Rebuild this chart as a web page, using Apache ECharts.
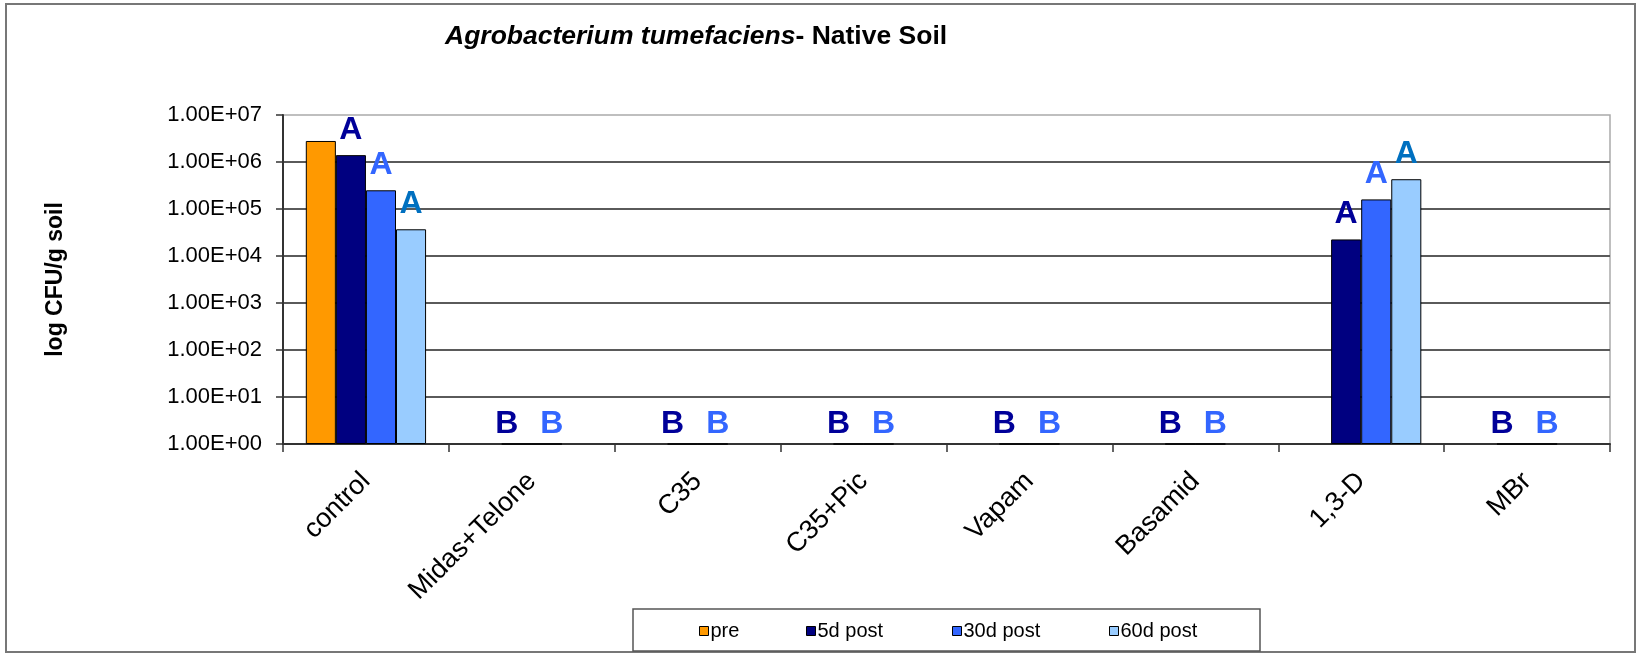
<!DOCTYPE html>
<html>
<head>
<meta charset="utf-8">
<title>Agrobacterium tumefaciens - Native Soil</title>
<script src="https://cdn.jsdelivr.net/npm/echarts@6/dist/echarts.min.js"></script>
<style>
  html, body { margin: 0; padding: 0; background: #fff; }
  #chart { width: 1643px; height: 655px; }
</style>
</head>
<body>
<div id="chart"></div>
<script>
// treatments on the x axis
var categories = ['control', 'Midas+Telone', 'C35', 'C35+Pic', 'Vapam', 'Basamid', '1,3-D', 'MBr'];

// CFU/g soil read off the log scale; 1 = nothing detected (axis floor), null = no bar
var pre    = [2.8e6, null, null, null, null, null, null, null];
var post5  = [1.4e6, 1, 1, 1, 1, 1, 2.25e4, 1];
var post30 = [2.5e5, 1, 1, 1, 1, 1, 1.6e5, 1];
var post60 = [3.7e4, null, null, null, null, null, 4.3e5, null];

// significance letters above the bars
var letters5  = ['A', 'B', 'B', 'B', 'B', 'B', 'A', 'B'];
var letters30 = ['A', 'B', 'B', 'B', 'B', 'B', 'A', 'B'];
var letters60 = ['A', '', '', '', '', '', 'A', ''];

var yTickLabels = ['1.00E+00', '1.00E+01', '1.00E+02', '1.00E+03', '1.00E+04', '1.00E+05', '1.00E+06', '1.00E+07'];

var seriesNames = ['pre', '5d post', '30d post', '60d post'];
var barColors = ['#FF9900', '#000080', '#3366FF', '#99CCFF'];
var letterColors = ['#000000', '#000099', '#3366FF', '#0070C0'];

var font = "'Liberation Sans', Arial, sans-serif";

function withLetters(values, letters, color, bOffset) {
	return values.map(function (v, i) {
		var l = letters ? letters[i] : '';
		if (!l) return v;
		return {
			value: v,
			label: {
				show: true,
				formatter: l,
				color: color,
				distance: v === 1 ? 3 : 9,
				offset: v === 1 ? [bOffset, 0] : [0, 0]
			}
		};
	});
}

var myChart = echarts.init(document.getElementById('chart'));

var barLabel = {
	show: false,
	position: 'top',
	fontFamily: font,
	fontWeight: 'bold',
	fontSize: 32
};

var option = {
	backgroundColor: '#fff',
	animation: false,
	textStyle: { fontFamily: font },
	title: {
		text: '{i|Agrobacterium tumefaciens}{n|- Native Soil}',
		left: 445,
		top: 23,
		padding: 0,
		textStyle: {
			rich: {
				i: { fontFamily: font, fontSize: 26.5, fontWeight: 'bold', fontStyle: 'italic', color: '#000' },
				n: { fontFamily: font, fontSize: 26.5, fontWeight: 'bold', color: '#000' }
			}
		}
	},
	legend: seriesNames.map(function (n, i) {
		var lefts = [699, 806, 952, 1109];
		return {
			data: [n],
			left: lefts[i],
			top: 621,
			padding: 0,
			itemWidth: 9,
			itemHeight: 9,
			icon: 'rect',
			selectedMode: false,
			textStyle: { fontFamily: font, fontSize: 20, color: '#000', padding: [0, 0, 0, -3] },
			itemStyle: { borderColor: '#000', borderWidth: 1 }
		};
	}),
	grid: {
		left: 283,
		right: 33,
		top: 115,
		bottom: 211,
		containLabel: false,
		show: true,
		borderColor: '#aaaaaa',
		borderWidth: 1.5
	},
	xAxis: {
		type: 'category',
		data: categories,
		axisLine: { lineStyle: { color: '#333', width: 2 } },
		axisTick: { show: true, length: 8, lineStyle: { color: '#333', width: 1.5 } },
		axisLabel: {
			interval: 0,
			rotate: 45,
			margin: 33,
			fontSize: 27,
			fontFamily: font,
			color: '#000'
		},
		splitLine: { show: false }
	},
	yAxis: {
		type: 'log',
		logBase: 10,
		min: 1,
		max: 1e7,
		splitNumber: 7,
		name: 'log CFU/g soil',
		nameLocation: 'middle',
		nameGap: 216,
		nameTextStyle: { fontFamily: font, fontSize: 23, fontWeight: 'bold', color: '#000' },
		axisLine: { show: true, lineStyle: { color: '#333', width: 2 } },
		axisTick: { show: true, length: 7, lineStyle: { color: '#333', width: 1.5 } },
		axisLabel: {
			margin: 21,
			fontSize: 22,
			fontFamily: font,
			color: '#000',
			formatter: function (v) {
				return yTickLabels[Math.round(Math.log10(v))];
			}
		},
		splitLine: {
			show: true,
			showMinLine: false,
			showMaxLine: false,
			lineStyle: { color: '#5a5a5a', width: 2 }
		}
	},
	series: [
		{
			name: seriesNames[0],
			type: 'bar',
			data: pre,
			barGap: '0%',
			barCategoryGap: '27.5%',
			itemStyle: { color: barColors[0], borderColor: '#000', borderWidth: 1 },
			label: barLabel
		},
		{
			name: seriesNames[1],
			type: 'bar',
			data: withLetters(post5, letters5, letterColors[1], -10),
			barGap: '0%',
			barCategoryGap: '27.5%',
			itemStyle: { color: barColors[1], borderColor: '#000', borderWidth: 1 },
			label: barLabel
		},
		{
			name: seriesNames[2],
			type: 'bar',
			data: withLetters(post30, letters30, letterColors[2], 5),
			barGap: '0%',
			barCategoryGap: '27.5%',
			itemStyle: { color: barColors[2], borderColor: '#000', borderWidth: 1 },
			label: barLabel
		},
		{
			name: seriesNames[3],
			type: 'bar',
			data: withLetters(post60, letters60, letterColors[3], 0),
			barGap: '0%',
			barCategoryGap: '27.5%',
			itemStyle: { color: barColors[3], borderColor: '#000', borderWidth: 1 },
			label: barLabel
		}
	],
	graphic: [
		{
			type: 'rect',
			shape: { x: 6, y: 4, width: 1629, height: 648 },
			style: { fill: 'none', stroke: '#777', lineWidth: 2 },
			silent: true,
			z: -1
		},
		{
			type: 'rect',
			shape: { x: 633, y: 609, width: 627, height: 42 },
			style: { fill: 'none', stroke: '#555', lineWidth: 1.5 },
			silent: true,
			z: -1
		}
	]
};

myChart.setOption(option);
</script>
</body>
</html>
